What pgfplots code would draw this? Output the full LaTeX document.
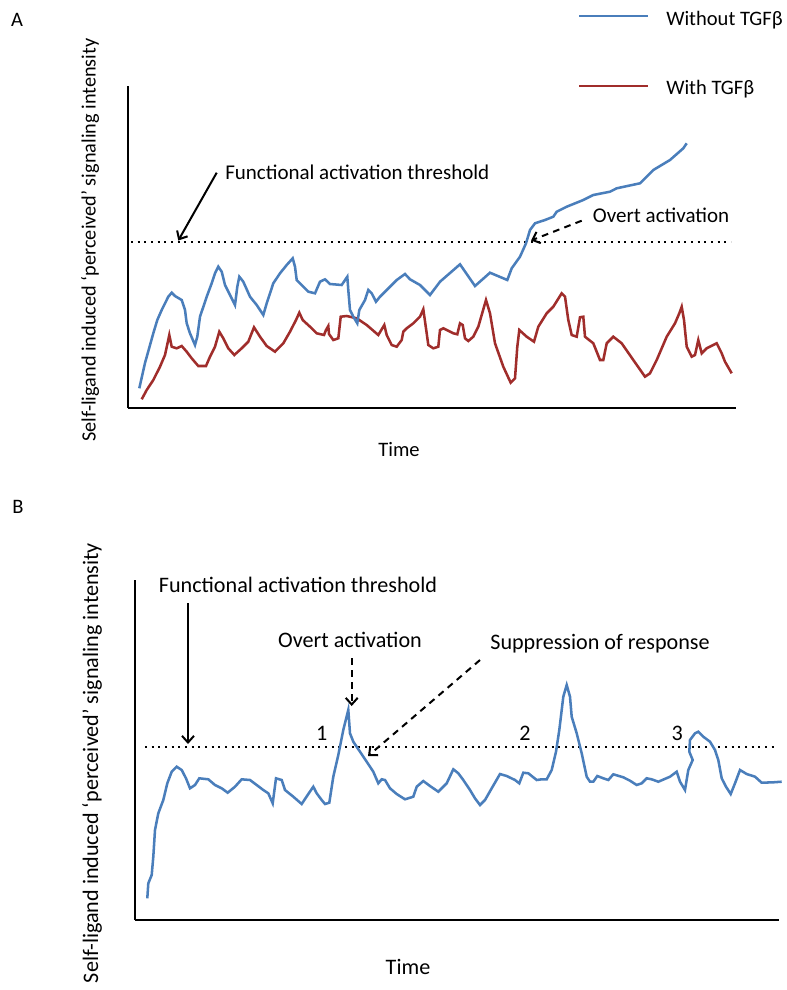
\documentclass[border=0pt]{standalone}
\usepackage{pgfplots}
\pgfplotsset{compat=1.18}
\usetikzlibrary{arrows.meta}
\usepackage{fontspec}
\setmainfont{Carlito}
\definecolor{cblue}{RGB}{74,126,187}
\definecolor{cred}{RGB}{160,45,43}
\newcommand\fa{\fontsize{15.75}{18}\selectfont}
\newcommand\fb{\fontsize{16.6}{19}\selectfont}
\newcommand\fl{\fontsize{15.2}{18}\selectfont}
\newcommand\ft{\fontsize{15.4}{18}\selectfont}
\pgfplotsset{panel/.style={scale only axis, clip=false, axis lines*=left,
  axis line style={-, line width=1.8pt, black}, xtick=\empty, ytick=\empty,
  anchor=south west}}
\begin{document}
\begin{tikzpicture}[x=0.75pt,y=0.75pt]
\path[use as bounding box] (0,0) rectangle (787,-990);
% ---------------- Panel A ----------------
\begin{axis}[panel, at={(96pt,-306pt)}, width=456pt, height=241.5pt,
  xmin=128, xmax=736, ymin=-408, ymax=-86]
\addplot[black, line width=1.6pt, dash pattern=on 1.6pt off 3.4pt] coordinates {(131,-242) (731,-242)};
\addplot[cred, line width=1.9pt] coordinates {
(141.7,-399.3) (146.7,-390) (153.3,-380) (160,-366.7) (165,-355) (169.3,-335) (171.7,-346.7) (176.7,-348.3) (181.7,-346) (186.7,-351.7) (191.7,-358.3) (198.3,-366) (206,-366) (210,-356.7) (215,-346.7) (219.3,-331.7) (223.3,-338.3) (228.3,-348.3) (234.3,-355) (241.7,-348.3) (248.3,-341.7) (254,-327.3) (260,-336.7) (266.7,-346) (275,-351.7) (283.3,-343.3) (290,-331.7) (296,-320) (299.3,-312.7) (302.7,-320) (310,-326.7) (316.7,-333.3) (324,-335) (326,-330) (328.3,-326) (329,-334) (333.3,-340) (338.3,-338.3) (340.7,-316.7) (346.7,-316) (356.7,-318.3) (366.7,-325) (378.3,-335) (384.3,-325) (386.7,-335) (391.7,-345) (396.7,-346.7) (401.7,-340) (403.3,-331.7) (406.7,-328.3) (413.3,-323.3) (420,-316.7) (423.3,-309.3) (426.7,-333.3) (428.3,-345) (433.3,-348.3) (438.3,-346.7) (440,-330) (443.3,-328.3) (453.3,-333.3) (457.3,-334.3) (460,-323.3) (462.7,-325) (465,-338.3) (468.3,-341) (473.3,-336.7) (478.3,-326.7) (486,-300) (490,-313.3) (495,-343.3) (503.3,-366.7) (510.7,-382.7) (515,-378.3) (517.3,-346.7) (519.3,-330) (526.7,-336.7) (534,-341.7) (538.3,-326.7) (546.7,-313.3) (553.3,-306.7) (561.7,-293.3) (565,-296.7) (568.3,-320) (571.7,-335) (576.7,-336.7) (580,-317.3) (583.3,-316.7) (585,-336.7) (593.3,-343.3) (600,-360) (603.3,-360) (606.7,-343.3) (613.3,-336.7) (621.7,-343.3) (633.3,-360) (645,-376.7) (650,-373.3) (656.7,-360) (666.7,-336.7) (675,-323.3) (679.3,-313.3) (681.7,-306.7) (684,-320) (686.7,-346.7) (691.7,-356.7) (695,-355) (698.3,-340) (701.7,-353.3) (706.7,-348.3) (716.7,-343.3) (721.7,-353.3) (725,-361.7) (731.7,-373.3)
};
\addplot[cblue, line width=1.9pt] coordinates {
(139.3,-388.3) (145,-363) (153.3,-333.3) (157.3,-320) (161.7,-310) (168.3,-296.7) (171.7,-292.7) (175,-296) (181.7,-300) (185,-310) (186.7,-323.3) (190,-333.3) (195,-345) (197.3,-336.7) (200,-316.7) (206.7,-296.7) (211.7,-283.3) (215,-273.3) (218.3,-266.7) (221.7,-271.7) (225,-285) (230,-295) (235,-305) (237.3,-286.7) (239.3,-276.7) (243.3,-281.7) (250,-296.7) (256.7,-305) (263.3,-315) (266.7,-303.3) (273.3,-283.3) (280,-273.3) (286.7,-265) (292.7,-258.3) (295,-266.7) (296.7,-280) (301.7,-285) (308.3,-291.7) (315,-293.3) (320,-281.7) (325,-279.3) (330,-284) (341.7,-285) (347.3,-276.7) (348.3,-290) (350,-310) (353.3,-316.7) (357.3,-323.3) (359.3,-310) (365,-300) (368.3,-290) (371.7,-293.3) (376,-301.7) (380,-296.7) (386.7,-290) (396.7,-280) (405,-274) (410,-279.3) (420,-285) (430,-295) (440,-281.7) (460,-264.3) (475,-286) (490,-272.7) (507.3,-280) (511.7,-268.3) (520,-256.7) (526,-243.3) (530,-230) (535,-223.3) (545,-220) (553.3,-216.7) (556.7,-211.7) (566.7,-206.7) (583.3,-200) (593.3,-195) (610,-191.7) (616.7,-188.3) (640,-183.3) (646.7,-176.7) (653.3,-170) (670,-160) (683.3,-148.3) (686.7,-143.3)
};
\end{axis}
% ---------------- Panel B ----------------
\begin{axis}[panel, at={(101.25pt,-690pt)}, width=483pt, height=255pt,
  xmin=135, xmax=779, ymin=-920, ymax=-580]
\addplot[black, line width=1.6pt, dash pattern=on 1.6pt off 3.4pt] coordinates {(145,-747) (774,-747)};
\addplot[cblue, line width=1.9pt] coordinates {
(147.3,-898.3) (148.3,-883.3) (151.7,-875) (153.3,-856.7) (155,-830) (158.3,-813.3) (163.3,-800) (167.3,-783.3) (171.7,-771.7) (176.7,-766.7) (181.7,-770) (186,-778.3) (190,-788.3) (195,-785) (199.3,-778.3) (208.3,-779.3) (215,-785) (221.7,-788.3) (227.7,-792.7) (235,-786.7) (241.7,-779.3) (250,-780) (256.7,-785) (263.3,-790) (268.3,-793.3) (272.7,-803.3) (276,-778.3) (281.7,-780) (285,-790) (293.3,-796.7) (301.7,-804) (308.3,-794) (313.3,-786.7) (316.7,-793.3) (321.7,-800) (325,-804) (329.3,-802.7) (333.3,-776.7) (338.3,-755) (343.3,-730) (348.3,-710) (350,-733.3) (353.3,-741.7) (360,-751.7) (366.7,-761.7) (373.3,-771.7) (378.3,-783.3) (381.7,-779.3) (385,-780) (390,-788.3) (396.7,-794) (405,-799.3) (413.3,-796.7) (416.7,-786.7) (423.3,-781) (430,-786) (438.3,-791.7) (446.7,-783.3) (453.3,-769.3) (458.3,-773.3) (463.3,-780) (470,-790) (475,-798.3) (480,-805) (485,-800) (491.7,-788.3) (500,-774) (506.7,-776) (515,-780) (519.3,-783.3) (523.3,-772.7) (528.3,-773.3) (536.7,-780) (541.7,-779.3) (546.7,-779.3) (551.7,-770) (556,-751.7) (559.3,-730) (563.3,-696.7) (566.7,-685) (570,-696.7) (571.7,-716.7) (576.7,-733.3) (581.7,-753.3) (586.7,-776.7) (590,-781.7) (593.3,-781.7) (597.3,-776) (603.3,-778.3) (608.3,-780) (613.3,-774.3) (623.3,-777.3) (630,-780.7) (636.7,-785) (641.7,-783.3) (646.7,-778.3) (651.7,-779.3) (658.3,-781.7) (670,-776.7) (676.7,-771.7) (680,-781.7) (685,-790) (688.3,-770) (692.7,-760) (689.3,-751.7) (690,-740) (695,-733.3) (698.3,-731.7) (703.3,-736.7) (710,-741.7) (715,-750) (718.3,-760) (721.7,-778.3) (726,-786.7) (730.7,-794) (735,-783.3) (740,-770) (746.7,-774) (755,-776.7) (761.7,-782.7) (773.3,-782.3) (781.7,-781.7)
};
\end{axis}
% ---------------- Text and arrows ----------------
\node[font=\ft] at (17,-20) {A};
\node[font=\ft] at (18,-507) {B};
\draw[cblue, line width=1.8pt] (579,-16) -- (648,-16);
\node[font=\ft, anchor=base west, inner sep=0pt] at (666,-25) {Without TGFβ};
\draw[cred, line width=1.8pt] (579,-86) -- (648,-86);
\node[font=\ft, anchor=base west, inner sep=0pt] at (666,-94) {With TGFβ};
\node[font=\fl, rotate=90] at (90,-240) {Self-ligand induced ‘perceived’ signaling intensity};
\node[font=\fb, rotate=90] at (92,-763) {Self-ligand induced ‘perceived’ signaling intensity};
\node[font=\ft, anchor=base] at (399,-456) {Time};
\node[font=\fb, anchor=base] at (408,-974) {Time};
\node[font=\fa, anchor=base west, inner sep=0pt] at (225,-179.5) {Functional activation threshold};
\node[font=\fa, anchor=base west, inner sep=0pt] at (592.7,-222.8) {Overt activation};
\node[font=\fb, anchor=base] at (298,-592) {Functional activation threshold};
\node[font=\fb, anchor=base] at (350,-647) {Overt activation};
\node[font=\fb, anchor=base] at (600,-649) {Suppression of response};
\node[font=\fb, anchor=base] at (321.7,-740) {1};
\node[font=\fb, anchor=base] at (525,-740) {2};
\node[font=\fb, anchor=base] at (677.3,-740) {3};
\tikzset{ar/.style={line width=1.5pt, -{Straight Barb[length=5pt,width=9pt]}}}
\draw[ar] (216.7,-172.7) -- (178.3,-240.5);
\draw[ar, dash pattern=on 5pt off 4pt] (581.7,-220.7) -- (531,-240.5);
\draw[ar] (188,-603) -- (188,-744);
\draw[ar, dash pattern=on 5pt off 4pt] (351.7,-658) -- (351.7,-706);
\draw[ar, dash pattern=on 5pt off 4pt] (480,-660) -- (368,-756);
\end{tikzpicture}
\end{document}
